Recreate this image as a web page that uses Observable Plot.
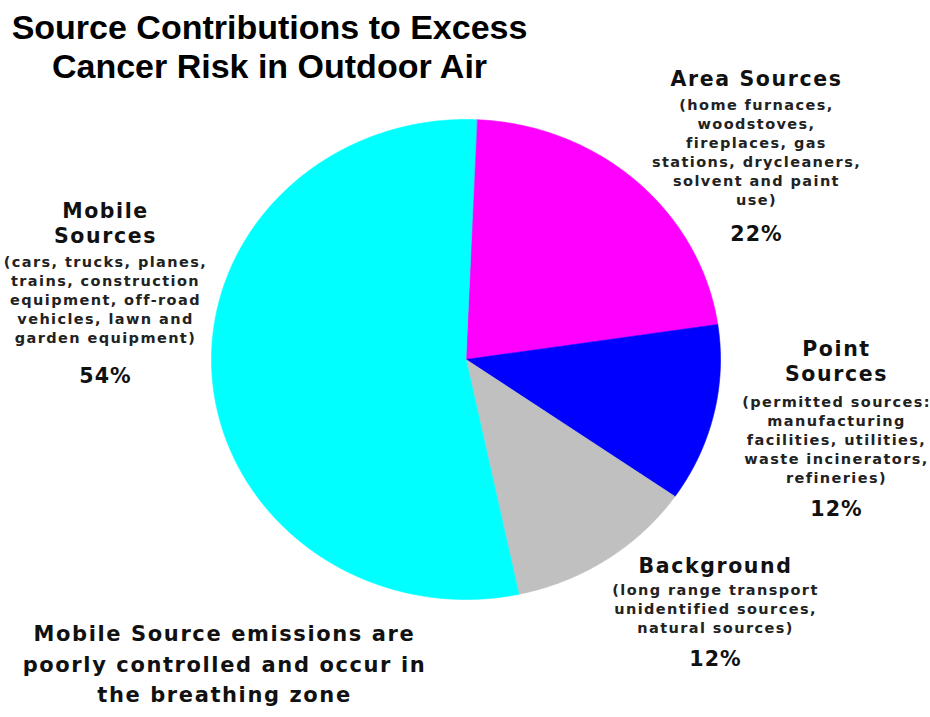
<!DOCTYPE html>
<html><head><meta charset="utf-8">
<script src="https://cdn.jsdelivr.net/npm/d3@7"></script>
<script src="https://cdn.jsdelivr.net/npm/@observablehq/plot@0.6"></script>
<style>
html,body{margin:0;padding:0;background:#fff;}
#chart svg{display:block;}
</style></head><body><div id="chart"></div>
<script>
// ---- data ----
const categories = ["Area Sources", "Point Sources", "Background", "Mobile Sources"];
const shares = [22, 12, 12, 54];
const headers = ["Area Sources", "Point\nSources", "Background", "Mobile\nSources"];
const details = [
  "(home furnaces,\nwoodstoves,\nfireplaces, gas\nstations, drycleaners,\nsolvent and paint\nuse)",
  "(permitted sources:\nmanufacturing\nfacilities, utilities,\nwaste incinerators,\nrefineries)",
  "(long range transport\nunidentified sources,\nnatural sources)",
  "(cars, trucks, planes,\ntrains, construction\nequipment, off-road\nvehicles, lawn and\ngarden equipment)"
];
const percentLabels = shares.map(v => v + "%");
const titleText = "Source Contributions to Excess\nCancer Risk in Outdoor Air";
const noteText = "Mobile Source emissions are\npoorly controlled and occur in\nthe breathing zone";

// ---- styles / layout ----
const colors = ["#ff00ff", "#0000ff", "#c0c0c0", "#00ffff"];
const W = 930, H = 717;
const CX = 465.5, CY = 359, RX = 254.5, RY = 240, START_DEG = 2.4;
const labelLayout = [
  {x: 756, head: 85,  det: 110, pct: 240},
  {x: 836, head: 355, det: 407, pct: 515},
  {x: 715, head: 572, det: 595, pct: 665},
  {x: 105, head: 217, det: 267, pct: 382}
];
const LABEL_FONT = "'DejaVu Sans', Verdana, sans-serif";
const TITLE_FONT = "'Liberation Sans', Arial, Helvetica, sans-serif";
const SIZE = {header: 20.5, detail: 14.5, percent: 20.6, note: 21, title: 34};
const SPACING = {"20.5": "1.6px", "14.5": "1.4px", "20.6": "1px", "21": "1.6px"};

// ---- pie geometry from data ----
const rows = categories.map((name, i) => ({name, share: shares[i]}));
const a0 = START_DEG * Math.PI / 180;
const arcs = d3.pie().sort(null).value(d => d.share).startAngle(a0).endAngle(a0 + 2 * Math.PI)(rows);
const wedgePts = arcs.flatMap(a => {
  const name = a.data.name;
  const n = Math.max(2, Math.ceil((a.endAngle - a.startAngle) / (Math.PI / 360)));
  const pts = [{name, x: 0, y: 0}];
  for (let i = 0; i <= n; i++) {
    const t = a.startAngle + (a.endAngle - a.startAngle) * i / n;
    pts.push({name, x: Math.sin(t), y: Math.cos(t)});
  }
  return pts;
});

function textBlock(text, x, baseline, fontSize, lh, opts) {
  return Plot.text([text], {
    text: d => d,
    frameAnchor: "top-left",
    dx: x,
    dy: baseline - 0.71 * lh * fontSize,
    lineAnchor: "top",
    lineHeight: lh,
    textAnchor: "middle",
    fontSize,
    ...opts
  });
}

const labelMarks = categories.flatMap((c, i) => {
  const L = labelLayout[i];
  return [
    textBlock(headers[i], L.x, L.head, SIZE.header, 1.25, {fontFamily: LABEL_FONT, fontWeight: "bold", fill: "#111"}),
    textBlock(details[i], L.x, L.det, SIZE.detail, 19 / SIZE.detail, {fontFamily: LABEL_FONT, fontWeight: "bold", fill: "#222"}),
    textBlock(percentLabels[i], L.x, L.pct, SIZE.percent, 1, {fontFamily: LABEL_FONT, fontWeight: "bold", fill: "#111"})
  ];
});

const chart = Plot.plot({
  width: W, height: H,
  margin: 0,
  x: {domain: [-CX / RX, (W - CX) / RX], axis: null},
  y: {domain: [(CY - H) / RY, CY / RY], axis: null},
  color: {domain: categories, range: colors},
  marks: [
    Plot.line(wedgePts, {x: "x", y: "y", z: "name", fill: "name", stroke: "name", strokeWidth: 0.6, curve: "linear-closed"}),
    ...labelMarks,
    textBlock(titleText, 269, 38, SIZE.title, 40 / SIZE.title, {fontFamily: TITLE_FONT, fontWeight: "bold", fill: "#000"}),
    textBlock(noteText, 224, 641, SIZE.note, 30.5 / SIZE.note, {fontFamily: LABEL_FONT, fontWeight: "bold", fill: "#111"})
  ]
});

d3.select(chart).selectAll("g").each(function () {
  const fs = this.getAttribute("font-size");
  if (fs != null && SPACING[fs]) d3.select(this).selectAll("text").attr("letter-spacing", SPACING[fs]);
});
document.getElementById("chart").appendChild(chart);
</script>
</body></html>
